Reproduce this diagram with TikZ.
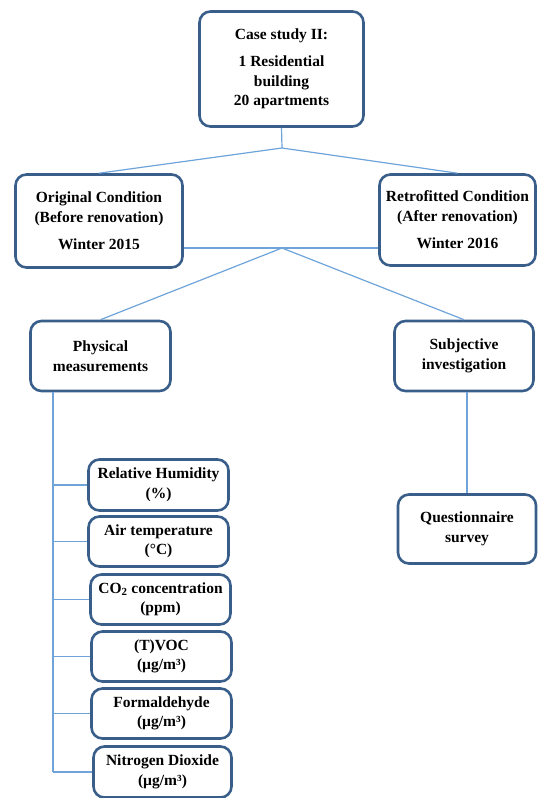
\documentclass[tikz,border=0pt]{standalone}
\usepackage{fontspec}
\setmainfont{Liberation Serif}
\usetikzlibrary{positioning,calc}
\definecolor{boxblue}{RGB}{58,94,138}
\definecolor{linkblue}{RGB}{110,164,218}

\begin{document}
\begin{tikzpicture}[x=1pt,y=-1pt,
  box/.style={draw=boxblue,line width=2.6pt,rounded corners=11pt,fill=white,
    align=center,inner sep=1pt,font=\fontsize{15.5}{19.5}\selectfont\bfseries},
  link/.style={draw=linkblue,line width=1.2pt}]
\useasboundingbox (0,0) rectangle (539,798);
% top level
\node[box,minimum width=164pt,minimum height=115pt] (case) at (281.5,69)
  {Case study II:\\[8pt]1 Residential\\building\\20 apartments};
\node[box,minimum width=167pt,minimum height=93pt] (orig) at (99,221)
  {Original Condition\\(Before renovation)\\[8pt]Winter 2015};
\node[box,minimum width=156pt,minimum height=91pt] (retro) at (457.5,220)
  {Retrofitted Condition\\(After renovation)\\[8pt]Winter 2016};
% methods
\node[box,minimum width=140pt,minimum height=70pt] (phys) at (100.5,356)
  {Physical\\measurements};
\node[box,minimum width=139pt,minimum height=70pt] (subj) at (464,356)
  {Subjective\\investigation};
\node[box,minimum width=138pt,minimum height=69pt] (quest) at (467,529)
  {Questionnaire\\survey};
% parameters
\node[box,minimum width=140pt,minimum height=51pt] (rh) at (158.5,485)
  {Relative Humidity\\(\%)};
\node[box,minimum width=140pt,minimum height=50pt] (temp) at (158.5,541.5)
  {Air temperature\\(°C)};
\node[box,minimum width=140pt,minimum height=50pt] (co2) at (160.5,599.5)
  {CO\textsubscript{2} concentration\\(ppm)};
\node[box,minimum width=140pt,minimum height=50pt] (voc) at (161.5,656.5)
  {(T)VOC\\(µg/m³)};
\node[box,minimum width=140pt,minimum height=50pt] (form) at (161.5,713.5)
  {Formaldehyde\\(µg/m³)};
\node[box,minimum width=138pt,minimum height=51pt] (no2) at (162.5,772)
  {Nitrogen Dioxide\\(µg/m³)};
% connectors
\coordinate (j1) at (282,148);
\coordinate (j2) at (282,248);
\coordinate (trunk) at (53,0);
\draw[link] (case.south) -- (j1);
\draw[link] (j1) -- (orig.north);
\draw[link] (j1) -- (retro.north);
\draw[link] (j2 -| orig.east) -- (j2 -| retro.west);
\draw[link] (j2) -- (phys.north);
\draw[link] (j2) -- (subj.north);
\draw[link] (quest.north |- subj.south) -- (quest.north);
\draw[link] (trunk |- phys.south) -- (trunk |- no2.west);
\foreach \m in {rh,temp,co2,voc,form,no2}
  \draw[link] (trunk |- \m.west) -- (\m.west);
\end{tikzpicture}
\end{document}
